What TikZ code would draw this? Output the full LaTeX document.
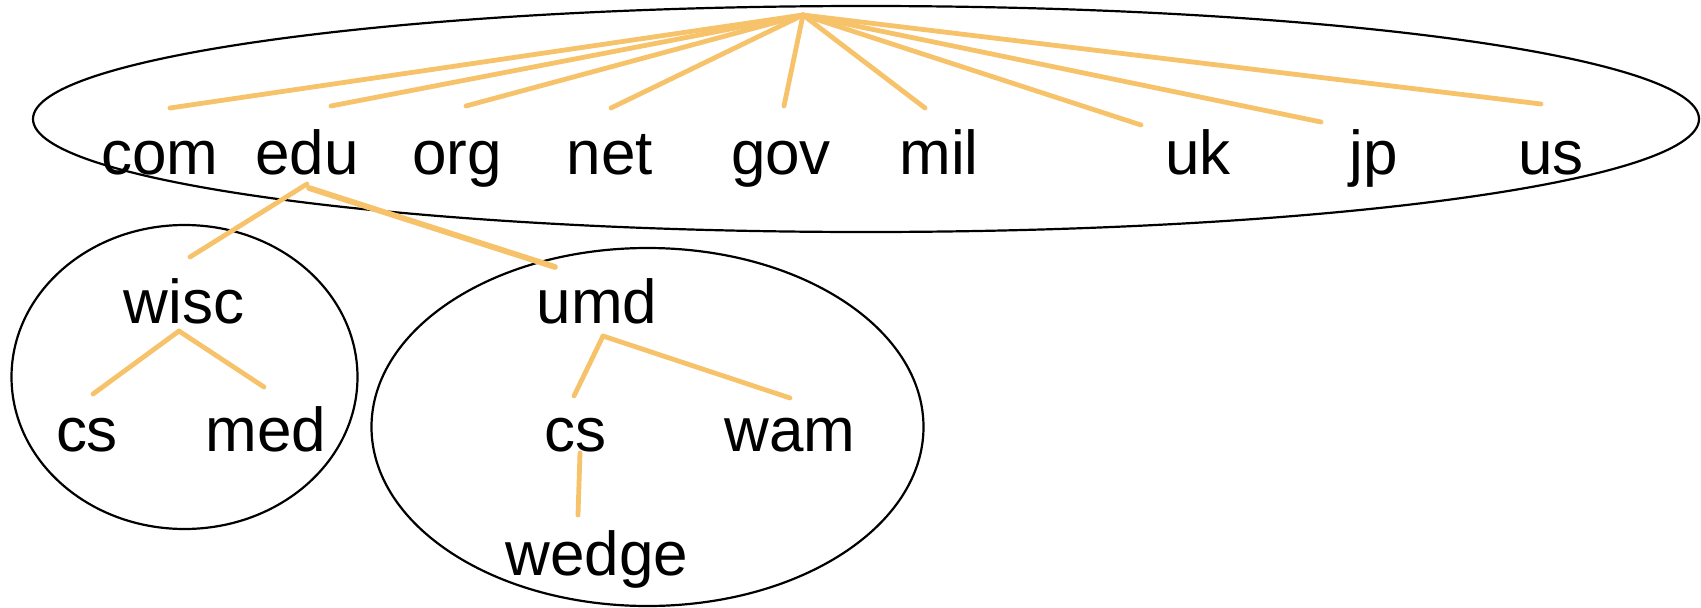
\documentclass[tikz,border=0pt]{standalone}
\usepackage{fontspec}
\setmainfont{Liberation Sans}
\definecolor{linkc}{RGB}{246,194,106}
\begin{document}
\begin{tikzpicture}[x=1pt,y=-1pt,
  lbl/.style={inner sep=0pt,anchor=base,font=\fontsize{62}{62}\selectfont},
  zone/.style={draw=black,line width=2.2pt},
  link/.style={draw=linkc,line width=4.8pt,line cap=round}]
\useasboundingbox (0,0) rectangle (1701,608);
% zones
\draw[zone] (866,119) ellipse [x radius=833, y radius=113];
\draw[zone] (184.5,377) ellipse [x radius=173, y radius=152];
\draw[zone] (647.5,427) ellipse [x radius=276, y radius=179];
% labels
\node[lbl] (com) at (160,174) {com};
\node[lbl] (edu) at (307,174) {edu};
\node[lbl] (org) at (457,174) {org};
\node[lbl] (net) at (610,174) {net};
\node[lbl] (gov) at (781,174) {gov};
\node[lbl] (mil) at (939,174) {mil};
\node[lbl] (uk) at (1198,174) {uk};
\node[lbl] (jp) at (1374,174) {jp};
\node[lbl] (us) at (1551,174) {us};
\node[lbl] (wisc) at (184,323) {wisc};
\node[lbl] (cs1) at (87,451) {cs};
\node[lbl] (med) at (266,451) {med};
\node[lbl] (umd) at (597,323) {umd};
\node[lbl] (cs2) at (575,451) {cs};
\node[lbl] (wam) at (790,451) {wam};
\node[lbl] (wedge) at (597,575) {wedge};
% connector ends
\coordinate (hub) at (803,15);
\coordinate (comT) at (170,108);
\coordinate (eduT) at (331,106);
\coordinate (orgT) at (466,106);
\coordinate (netT) at (611,108);
\coordinate (govT) at (784,106);
\coordinate (milT) at (925,108);
\coordinate (ukT) at (1141,125);
\coordinate (jpT) at (1321,122);
\coordinate (usT) at (1541,104);
\coordinate (eduB1) at (307,184);
\coordinate (eduB2) at (309,188);
\coordinate (wiscT) at (190,257);
\coordinate (umdT) at (555,267);
\coordinate (wiscB) at (179,331);
\coordinate (cs1T) at (93,394);
\coordinate (medT) at (264,387);
\coordinate (umdB) at (603,336);
\coordinate (cs2T) at (574,396);
\coordinate (wamT) at (790,398);
\coordinate (cs2B) at (580,453);
\coordinate (wedgeT) at (578,515);
% connectors
\foreach \t in {comT,eduT,orgT,netT,govT,milT,ukT,jpT,usT}
  \draw[link] (hub) -- (\t);
\draw[link] (eduB1) -- (wiscT);
\draw[link,line width=5.8pt] (eduB2) -- (umdT);
\draw[link] (wiscB) -- (cs1T);
\draw[link] (wiscB) -- (medT);
\draw[link] (umdB) -- (cs2T);
\draw[link] (umdB) -- (wamT);
\draw[link] (cs2B) -- (wedgeT);
\end{tikzpicture}
\end{document}
